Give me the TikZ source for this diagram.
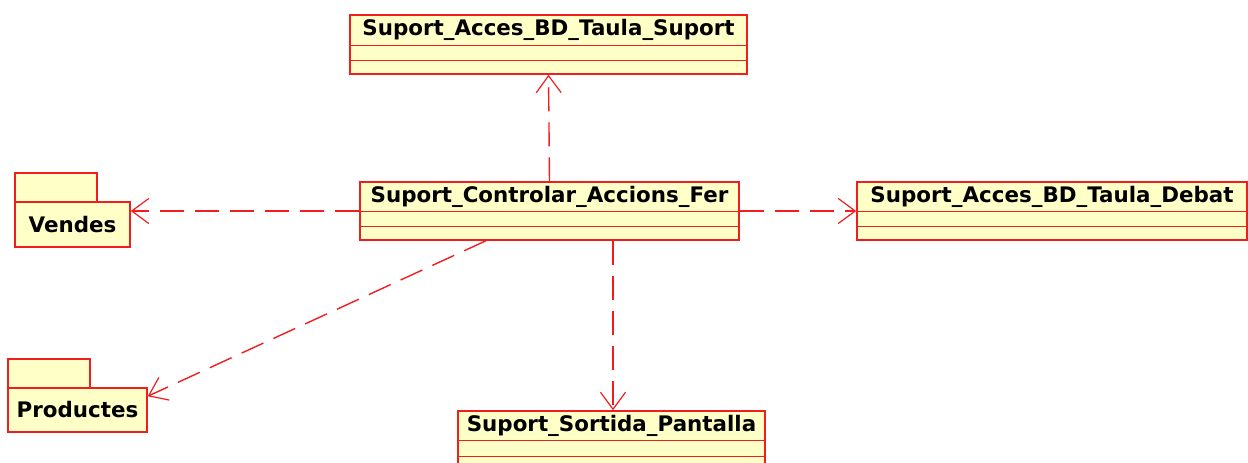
\documentclass[tikz,border=0pt]{standalone}
\usepackage{fontspec}
\setmainfont{DejaVu Sans}
\usetikzlibrary{arrows.meta,calc}
\definecolor{umlred}{RGB}{240,30,30}
\definecolor{umlfill}{RGB}{255,255,200}
\tikzset{
  x=1pt, y=-1pt,
  box/.style={draw=umlred, fill=umlfill, line width=1.5pt, rectangle, inner sep=0pt},
  sepline/.style={draw=umlred, line width=1.5pt},
  ttl/.style={font=\fontsize{21.4}{24}\selectfont\bfseries, inner sep=0pt, anchor=base, text=black},
  dep/.style={draw=umlred, line width=1.4pt, dash pattern=on 24pt off 11pt,
    -{Straight Barb[length=17pt, width=25pt, line width=1.2pt]}}
}
\begin{document}
\begin{tikzpicture}
\clip (0,0) rectangle (1248,463);
\fill[white] (0,0) rectangle (1248,463);

% class boxes
\node[box, minimum width=397pt, minimum height=59pt] (top) at (548.5,44.5) {};
\node[box, minimum width=379pt, minimum height=58pt] (ctrl) at (549.5,211) {};
\node[box, minimum width=390pt, minimum height=58pt] (debat) at (1052,211) {};
\node[box, minimum width=307pt, minimum height=60pt] (sort) at (611.5,441) {};

% packages
\node[box, minimum width=82pt, minimum height=29pt] (vtab) at (56,187.5) {};
\node[box, minimum width=115pt, minimum height=45pt] (vend) at (72.5,224.5) {};
\node[box, minimum width=82pt, minimum height=29pt] (ptab) at (49,373.5) {};
\node[box, minimum width=139pt, minimum height=44pt] (prod) at (77.5,410) {};

% titles
\node[ttl] (ttop) at ($(top.north)+(0,21)$) {Suport\_Acces\_BD\_Taula\_Suport};
\node[ttl] (tctrl) at ($(ctrl.north)+(0,21)$) {Suport\_Controlar\_Accions\_Fer};
\node[ttl] (tdebat) at ($(debat.north)+(0,21)$) {Suport\_Acces\_BD\_Taula\_Debat};
\node[ttl] (tsort) at ($(sort.north)+(0,21)$) {Suport\_Sortida\_Pantalla};
\node[ttl] (tvend) at ($(vend.center)+(0,7.5)$) {Vendes};
\node[ttl] (tprod) at ($(prod.center)+(0,7)$) {Productes};

% compartment separators
\foreach \n/\a/\b in {top/31/46, ctrl/30/45, debat/30/45, sort/30/46}{
  \draw[sepline] ($(\n.north west)+(0,\a)$) -- ($(\n.north east)+(0,\a)$);
  \draw[sepline] ($(\n.north west)+(0,\b)$) -- ($(\n.north east)+(0,\b)$);
}

% dependencies
\draw[dep] (ctrl.north) -- (top.south);
\draw[dep] (ctrl.west) -- (vend.east |- ctrl.west);
\draw[dep] (ctrl.east) -- (debat.west);
\draw[dep] ($(ctrl.south)+(63.5,0)$) -- ($(sort.north)+(1.5,0)$);
\draw[dep] ($(ctrl.south)+(-63.5,0)$) -- ($(prod.north east)+(0,9)$);
\end{tikzpicture}
\end{document}
